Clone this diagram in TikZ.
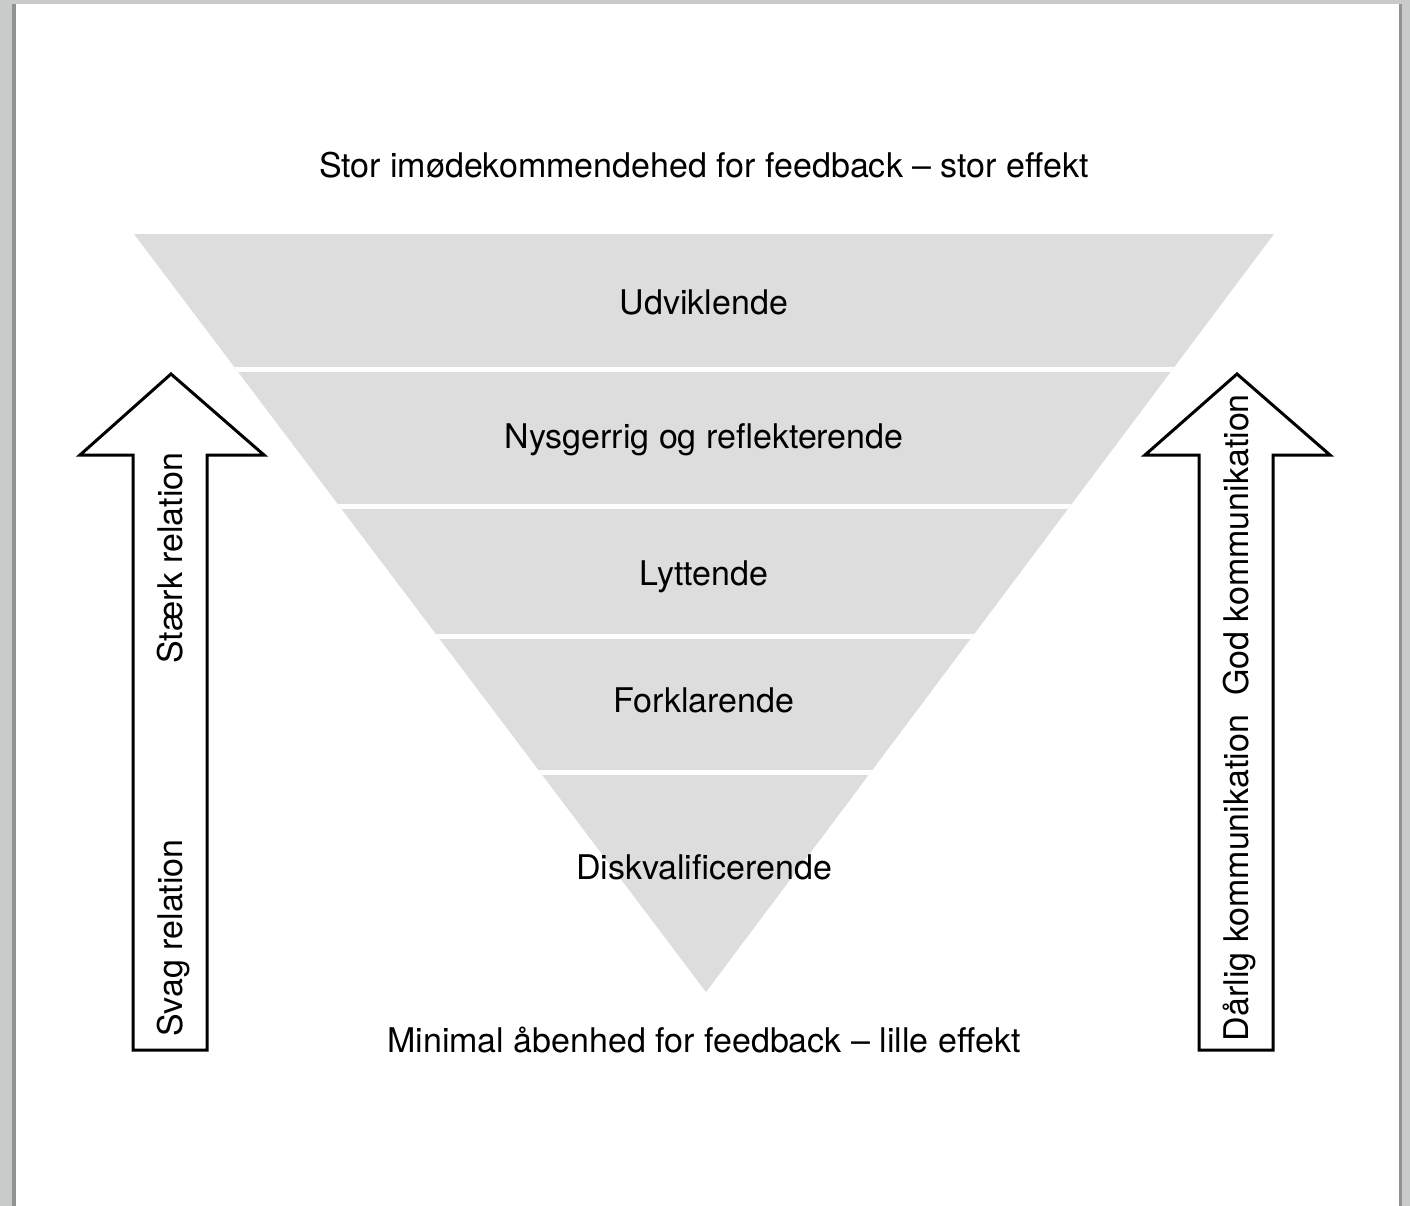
\documentclass[tikz,border=0pt]{standalone}
\usepackage{fontspec}
\setmainfont{TeX Gyre Heros}
\usetikzlibrary{positioning}
\definecolor{bandgray}{RGB}{221,221,221}
\definecolor{framegray}{RGB}{201,203,202}
\definecolor{edgegray}{RGB}{146,146,146}
\tikzset{
  lbl/.style={inner sep=0pt, anchor=base, font=\fontsize{17}{20}\selectfont},
  sidelbl/.style={lbl, rotate=90},
  blockarrow/.style={draw=black, line width=1.5pt, fill=white, line join=miter},
  bandgap/.style={draw=white, line width=2.5pt}
}

\begin{document}
\begin{tikzpicture}[x=0.5pt,y=-0.5pt]
  \useasboundingbox (0,0) rectangle (1410,1206);
  \fill[framegray] (0,0) rectangle (1410,1206);
  \fill[edgegray] (12,4) rectangle (16,1206);
  \fill[edgegray] (1399,4) rectangle (1402,1206);
  \fill[white] (16,4) rectangle (1399,1206);

  \fill[bandgray] (134,234) -- (1274,234) -- (706,992) -- cycle;
  \begin{scope}
    \clip (134,234) -- (1274,234) -- (706,992) -- cycle;
    \foreach \y in {369.5,506.5,636.5,772.5}
      \draw[bandgap] (100,\y) -- (1300,\y);
  \end{scope}

  \draw[blockarrow] (171,374) -- (264,455) -- (207,455) -- (207,1050)
    -- (133,1050) -- (133,455) -- (80,455) -- cycle;
  \draw[blockarrow] (1237,374) -- (1330,455) -- (1273,455) -- (1273,1050)
    -- (1199,1050) -- (1199,455) -- (1145,455) -- cycle;

  \node[lbl] (top) at (704,177) {Stor imødekommendehed for feedback – stor effekt};
  \node[lbl] (udv) at (704,314) {Udviklende};
  \node[lbl] (nys) at (704,448) {Nysgerrig og reflekterende};
  \node[lbl] (lyt) at (704,585) {Lyttende};
  \node[lbl] (fork) at (704,712) {Forklarende};
  \node[lbl] (disk) at (704,879) {Diskvalificerende};
  \node[lbl] (bund) at (704,1052) {Minimal åbenhed for feedback – lille effekt};

  \node[sidelbl] (staerk) at (182,558) {Stærk relation};
  \node[sidelbl] (svag) at (182,938) {Svag relation};
  \node[sidelbl] (god) at (1248,545) {God kommunikation};
  \node[sidelbl] (daarlig) at (1248,878) {Dårlig kommunikation};
\end{tikzpicture}
\end{document}
